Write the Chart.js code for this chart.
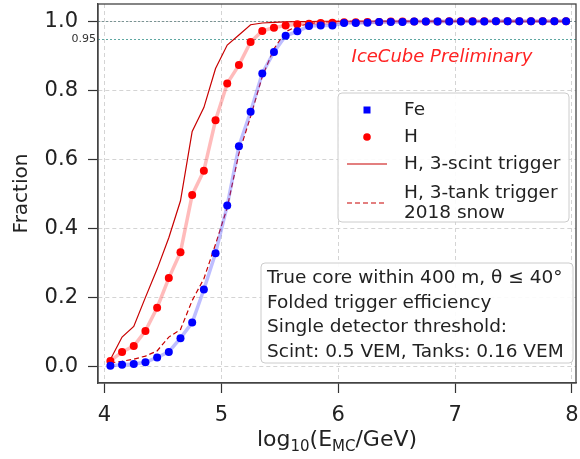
<!DOCTYPE html>
<html lang="en">
<head>
<meta charset="UTF-8">
<title>Trigger efficiency</title>
<style>
  body { margin: 0; background: #fff; overflow: hidden; }
</style>
<script src="https://cdn.jsdelivr.net/npm/chart.js@4.4.0/dist/chart.umd.min.js"></script>
</head>
<body>
<canvas id="myChart" width="580" height="459"></canvas>
<script>
// log10(E/GeV) bin centres
const energies = [4.05, 4.15, 4.25, 4.35, 4.45, 4.55, 4.65, 4.75, 4.85, 4.95,
                  5.05, 5.15, 5.25, 5.35, 5.45, 5.55, 5.65, 5.75, 5.85, 5.95,
                  6.05, 6.15, 6.25, 6.35, 6.45, 6.55, 6.65, 6.75, 6.85, 6.95,
                  7.05, 7.15, 7.25, 7.35, 7.45, 7.55, 7.65, 7.75, 7.85, 7.95];
const fe = [0.002, 0.005, 0.007, 0.012, 0.026, 0.042, 0.082, 0.127, 0.223, 0.328,
            0.466, 0.638, 0.738, 0.849, 0.911, 0.958, 0.971, 0.986, 0.988, 0.988,
            0.995, 0.995, 0.996, 0.998, 0.998, 0.998, 0.999, 0.999, 0.999, 0.999,
            0.999, 0.999, 0.999, 1.0, 1.0, 1.0, 1.0, 1.0, 1.0, 1.0];
const h = [0.016, 0.042, 0.059, 0.103, 0.17, 0.256, 0.331, 0.497, 0.567, 0.713,
           0.82, 0.873, 0.94, 0.972, 0.981, 0.988, 0.991, 0.993, 0.995, 0.996,
           0.997, 0.997, 0.998, 0.998, 0.999, 0.999, 0.999, 0.999, 0.999, 1.0,
           1.0, 1.0, 1.0, 1.0, 1.0, 1.0, 1.0, 1.0, 1.0, 1.0];
const hScint = [0.02, 0.085, 0.116, 0.2, 0.282, 0.373, 0.48, 0.681, 0.75, 0.863,
                0.931, 0.96, 0.99, 0.995, 0.997, 0.998, 0.999, 0.999, 1.0, 1.0,
                1.0, 1.0, 1.0, 1.0, 1.0, 1.0, 1.0, 1.0, 1.0, 1.0,
                1.0, 1.0, 1.0, 1.0, 1.0, 1.0, 1.0, 1.0, 1.0, 1.0];
const hTank = [0.01, 0.015, 0.021, 0.03, 0.045, 0.085, 0.107, 0.191, 0.254, 0.354,
               0.46, 0.617, 0.724, 0.84, 0.92, 0.97, 0.985, 0.993, 0.997, 0.999,
               1.0, 1.0, 1.0, 1.0, 1.0, 1.0, 1.0, 1.0, 1.0, 1.0,
               1.0, 1.0, 1.0, 1.0, 1.0, 1.0, 1.0, 1.0, 1.0, 1.0];
const xTicks = [4, 5, 6, 7, 8];
const yTicks = [0.0, 0.2, 0.4, 0.6, 0.8, 1.0];
const refLevels = [1.0, 0.95];
const legendNames = ["Fe", "H", "H, 3-scint trigger", ["H, 3-tank trigger", "2018 snow"]];
const infoLines = ["True core within 400 m, \u03b8 \u2264 40\u00b0",
                   "Folded trigger efficiency",
                   "Single detector threshold:",
                   "Scint: 0.5 VEM, Tanks: 0.16 VEM"];

const FONT = "'DejaVu Sans', sans-serif";
const darkRed = "#c80000";

function pts(arr) {
    return energies.map((e, i) => ({x: e, y: arr[i]}));
}

// reference lines at 1.0 and 0.95
const refLinePlugin = {
    id: 'refLines',
    beforeDatasetsDraw(chart) {
        const {ctx, chartArea: a, scales: {y}} = chart;
        ctx.save();
        ctx.lineWidth = 1;
        ctx.setLineDash([2, 2]);
        refLevels.forEach((v, i) => {
            const py = Math.round(y.getPixelForValue(v)) + 0.5;
            ctx.strokeStyle = i == 0 ? "#7a9494" : "#5fa8a2";
            ctx.beginPath();
            ctx.moveTo(a.left, py);
            ctx.lineTo(a.right, py);
            ctx.stroke();
        });
        ctx.restore();
    }
};

function roundBox(ctx, x, y, w, h, r) {
    ctx.beginPath();
    ctx.moveTo(x + r, y);
    ctx.arcTo(x + w, y, x + w, y + h, r);
    ctx.arcTo(x + w, y + h, x, y + h, r);
    ctx.arcTo(x, y + h, x, y, r);
    ctx.arcTo(x, y, x + w, y, r);
    ctx.closePath();
    ctx.fillStyle = "rgba(255,255,255,0.9)";
    ctx.fill();
    ctx.strokeStyle = "#cccccc";
    ctx.lineWidth = 1;
    ctx.stroke();
}

const decorPlugin = {
    id: 'decor',
    afterDraw(chart) {
        const {ctx, chartArea: a, scales: {y}} = chart;
        ctx.save();

        // frame
        ctx.strokeStyle = "#444";
        ctx.lineWidth = 1.3;
        ctx.strokeRect(a.left, a.top, a.right - a.left, a.bottom - a.top);

        // small 0.95 label
        ctx.fillStyle = "#333";
        ctx.font = "11px " + FONT;
        ctx.textAlign = "right";
        ctx.textBaseline = "middle";
        ctx.fillText("0.95", a.left - 2, y.getPixelForValue(0.95) + 1);

        // y title
        ctx.save();
        ctx.translate(22, (a.top + a.bottom) / 2);
        ctx.rotate(-Math.PI / 2);
        ctx.textAlign = "center";
        ctx.textBaseline = "middle";
        ctx.font = "20px " + FONT;
        ctx.fillStyle = "#222";
        ctx.fillText("Fraction", 0, 0);
        ctx.restore();

        // x title with subscripts
        const parts = [["log", 22, 0], ["10", 15, 5], ["(E", 22, 0], ["MC", 15, 5], ["/GeV)", 22, 0]];
        let total = 0;
        parts.forEach(p => { ctx.font = p[1] + "px " + FONT; total += ctx.measureText(p[0]).width; });
        let cx = (a.left + a.right) / 2 - total / 2;
        ctx.textAlign = "left";
        ctx.textBaseline = "alphabetic";
        ctx.fillStyle = "#222";
        parts.forEach(p => {
            ctx.font = p[1] + "px " + FONT;
            ctx.fillText(p[0], cx, 446 + p[2]);
            cx += ctx.measureText(p[0]).width;
        });

        // IceCube Preliminary
        ctx.font = "italic 18px " + FONT;
        ctx.fillStyle = "#ff2222";
        ctx.textAlign = "center";
        ctx.fillText("IceCube Preliminary", 442, 62);

        // legend
        roundBox(ctx, 338, 93, 231, 129, 4);
        const ds = chart.data.datasets;
        ctx.font = "18.5px " + FONT;
        ctx.textAlign = "left";
        ctx.textBaseline = "middle";
        const rows = [110, 137, 164, 193];
        // Fe marker
        ctx.fillStyle = ds[0].pointBackgroundColor;
        ctx.fillRect(367 - 3.5, rows[0] - 3.5, 7, 7);
        // H marker
        ctx.fillStyle = ds[1].pointBackgroundColor;
        ctx.beginPath();
        ctx.arc(367, rows[1], 3.8, 0, Math.PI * 2);
        ctx.fill();
        // scint line
        ctx.strokeStyle = ds[2].borderColor;
        ctx.lineWidth = ds[2].borderWidth;
        ctx.beginPath();
        ctx.moveTo(347, rows[2]); ctx.lineTo(387, rows[2]);
        ctx.stroke();
        // tank line
        ctx.setLineDash(ds[3].borderDash);
        ctx.beginPath();
        ctx.moveTo(347, 203); ctx.lineTo(387, 203);
        ctx.stroke();
        ctx.setLineDash([]);
        ctx.fillStyle = "#222";
        legendNames.forEach((n, i) => {
            if (Array.isArray(n)) {
                n.forEach((t, j) => ctx.fillText(t, 404, rows[i] + j * 20));
            } else {
                ctx.fillText(n, 404, rows[i]);
            }
        });

        // info box
        roundBox(ctx, 261, 263, 312, 100, 4);
        ctx.fillStyle = "#222";
        ctx.font = "18.5px " + FONT;
        ctx.textBaseline = "alphabetic";
        infoLines.forEach((t, i) => ctx.fillText(t, 267, 283 + i * 24.5));

        ctx.restore();
    }
};

const ctx = document.getElementById("myChart").getContext('2d');
const myChart = new Chart(ctx, {
    type: 'line',
    data: {
        datasets: [{
            label: "Fe",
            data: pts(fe),
            borderColor: "rgba(70, 70, 255, 0.35)",
            borderWidth: 3.5,
            pointBackgroundColor: "#0000ff",
            pointBorderColor: "#0000ff",
            pointRadius: 4,
            pointBorderWidth: 0,
            tension: 0,
            order: 1
        }, {
            label: "H",
            data: pts(h),
            borderColor: "rgba(255, 60, 60, 0.35)",
            borderWidth: 3.5,
            pointBackgroundColor: "#ff0000",
            pointBorderColor: "#ff0000",
            pointRadius: 4,
            pointBorderWidth: 0,
            tension: 0,
            order: 2
        }, {
            label: "H, 3-scint trigger",
            data: pts(hScint),
            borderColor: darkRed,
            borderWidth: 1.2,
            pointRadius: 0,
            tension: 0,
            order: 3
        }, {
            label: "H, 3-tank trigger 2018 snow",
            data: pts(hTank),
            borderColor: darkRed,
            borderWidth: 1.2,
            borderDash: [5, 3],
            pointRadius: 0,
            tension: 0,
            order: 4
        }]
    },
    options: {
        responsive: false,
        animation: false,
        layout: { padding: { top: 2, right: 4, left: 0, bottom: 0 } },
        plugins: {
            legend: { display: false },
            title: { display: false },
            tooltip: { enabled: false }
        },
        scales: {
            x: {
                type: 'linear',
                min: 3.944,
                max: 8.035,
                afterFit: s => { s.height = 76; s.paddingLeft = 0; s.paddingRight = 0; },
                afterBuildTicks: s => { s.ticks = xTicks.map(v => ({value: v})); },
                grid: {
                    color: "#d4d4d4",
                    tickColor: "#333",
                    tickLength: 10,
                    tickWidth: 1.2
                },
                border: { display: true, color: "#444", width: 1.3, dash: [4, 3] },
                ticks: {
                    color: "#222",
                    padding: 10,
                    maxRotation: 0,
                    font: { family: FONT, size: 21 },
                    callback: v => String(v)
                }
            },
            y: {
                type: 'linear',
                min: -0.048,
                max: 1.05,
                afterFit: s => { s.width = 98; s.paddingTop = 0; s.paddingBottom = 0; },
                afterBuildTicks: s => { s.ticks = yTicks.map(v => ({value: v})); },
                grid: {
                    color: "#d4d4d4",
                    tickColor: "#333",
                    tickLength: 10,
                    tickWidth: 1.2
                },
                border: { display: true, color: "#444", width: 1.3, dash: [4, 3] },
                ticks: {
                    color: "#222",
                    padding: 10,
                    font: { family: FONT, size: 21 },
                    callback: v => v.toFixed(1)
                }
            }
        }
    },
    plugins: [refLinePlugin, decorPlugin]
});
</script>
</body>
</html>
